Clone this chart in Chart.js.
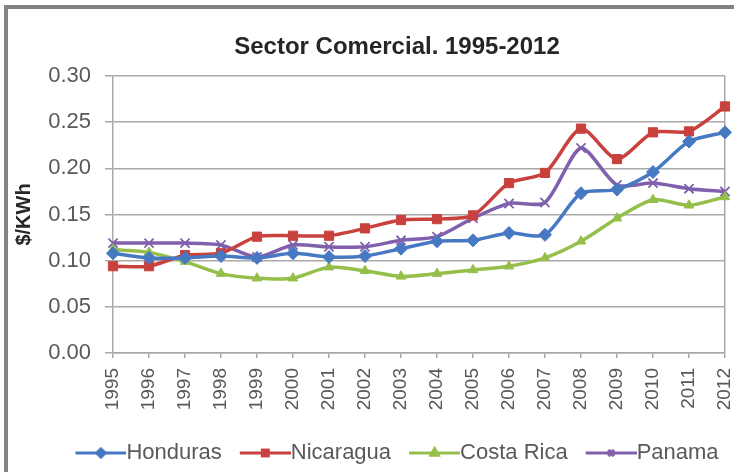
<!DOCTYPE html>
<html>
<head>
<meta charset="utf-8">
<title>Sector Comercial. 1995-2012</title>
<script src="https://cdn.jsdelivr.net/npm/chart.js@4.4.0/dist/chart.umd.min.js"></script>
<style>
    html, body { margin: 0; padding: 0; background: #fff; overflow: hidden; }
    #frame {
        position: absolute;
        left: 4px;
        top: 5px;
        border-left: 4px solid #838383;
        border-top: 4px solid #838383;
    }
    #chart { display: block; }
</style>
</head>
<body>
<div id="frame">
    <canvas id="chart" width="774" height="480"></canvas>
</div>
<script>
// years on the x axis
const years = ['1995', '1996', '1997', '1998', '1999', '2000', '2001', '2002', '2003',
    '2004', '2005', '2006', '2007', '2008', '2009', '2010', '2011', '2012'];

// $/KWh values
const honduras = [0.108, 0.103, 0.103, 0.105, 0.103, 0.108, 0.104, 0.105, 0.113,
    0.121, 0.122, 0.130, 0.128, 0.173, 0.177, 0.196, 0.229, 0.239];
const nicaragua = [0.094, 0.094, 0.106, 0.108, 0.126, 0.127, 0.127, 0.135, 0.144,
    0.145, 0.149, 0.184, 0.195, 0.243, 0.210, 0.239, 0.240, 0.267];
const costaRica = [0.112, 0.109, 0.099, 0.086, 0.081, 0.081, 0.093, 0.089, 0.083,
    0.086, 0.090, 0.094, 0.103, 0.121, 0.146, 0.166, 0.160, 0.169];
const panama = [0.119, 0.119, 0.119, 0.117, 0.104, 0.117, 0.115, 0.115, 0.122,
    0.126, 0.146, 0.162, 0.163, 0.222, 0.182, 0.184, 0.178, 0.175];

const seriesNames = ['Honduras', 'Nicaragua', 'Costa Rica', 'Panama'];
const seriesColors = ['#4679c2', '#c9413d', '#95bf4a', '#8060ac'];
const seriesMarkers = ['rectRot', 'rect', 'triangle', 'crossRot'];

const gridColor = '#a9a9a9';
const labelColor = '#595959';

// legend swatch: a short line with the marker in the middle (Excel style)
function legendSwatch(color, marker) {
    const c = document.createElement('canvas');
    c.width = 62;
    c.height = 16;
    const g = c.getContext('2d');
    g.strokeStyle = color;
    g.fillStyle = color;
    g.lineWidth = 3;
    g.beginPath();
    g.moveTo(11, 8);
    g.lineTo(62, 8);
    g.stroke();
    Chart.helpers.drawPoint(g, {pointStyle: marker, radius: 4, rotation: 0, borderWidth: 1.5}, 36.5, 8);
    if (marker !== 'crossRot') g.fill();
    g.stroke();
    return c;
}

function makeSet(i, values) {
    return {
        label: seriesNames[i],
        data: values,
        borderColor: seriesColors[i],
        backgroundColor: seriesColors[i],
        borderWidth: 3.5,
        tension: 0.25,
        pointStyle: seriesMarkers[i],
        pointRadius: seriesMarkers[i] === 'triangle' ? 5.5 : 6.5,
        pointBorderWidth: seriesMarkers[i] === 'crossRot' ? 1.8 : 1,
        pointBackgroundColor: seriesColors[i],
        pointBorderColor: seriesColors[i]
    };
}

const ctx = document.getElementById('chart').getContext('2d');
new Chart(ctx, {
    type: 'line',
    data: {
        labels: years,
        datasets: [
            makeSet(0, honduras),
            makeSet(1, nicaragua),
            makeSet(2, costaRica),
            makeSet(3, panama)
        ]
    },
    options: {
        responsive: false,
        animation: false,
        layout: {
            padding: {left: 4, right: 0, top: 10, bottom: 15}
        },
        plugins: {
            title: {
                display: true,
                text: 'Sector Comercial. 1995-2012',
                color: '#262626',
                font: {family: 'Liberation Sans', size: 24, weight: 'bold'},
                padding: {top: 13.6, bottom: 14.6}
            },
            legend: {
                position: 'bottom',
                labels: {
                    usePointStyle: true,
                    pointStyleWidth: 40,
                    padding: 18,
                    color: labelColor,
                    font: {family: 'Liberation Sans', size: 22},
                    generateLabels: function (chart) {
                        return chart.data.datasets.map(function (ds, i) {
                            return {
                                text: ds.label,
                                pointStyle: legendSwatch(seriesColors[i], seriesMarkers[i]),
                                fillStyle: seriesColors[i],
                                strokeStyle: seriesColors[i],
                                fontColor: labelColor,
                                lineWidth: 0,
                                hidden: false,
                                datasetIndex: i
                            };
                        });
                    }
                }
            },
            tooltip: {enabled: false}
        },
        scales: {
            x: {
                offset: false,
                afterFit: function (scale) { scale.height = 71; },
                grid: {
                    drawOnChartArea: true,
                    color: function (c) { return c.index === years.length - 1 ? gridColor : 'rgba(0,0,0,0)'; },
                    tickColor: gridColor,
                    tickLength: 5,
                    lineWidth: 1.5
                },
                border: {color: gridColor, width: 1.5},
                ticks: {
                    autoSkip: false,
                    minRotation: 90,
                    maxRotation: 90,
                    padding: 10,
                    color: labelColor,
                    font: {family: 'Liberation Sans', size: 19}
                }
            },
            y: {
                min: 0,
                max: 0.3,
                afterFit: function (scale) { scale.width = 101; },
                grid: {
                    color: gridColor,
                    lineWidth: 1.5,
                    tickLength: 8
                },
                border: {color: gridColor, width: 1.5},
                ticks: {
                    stepSize: 0.05,
                    padding: 14,
                    color: labelColor,
                    font: {family: 'Liberation Sans', size: 22},
                    callback: function (v) { return v.toFixed(2); }
                },
                title: {
                    display: true,
                    text: '$/KWh',
                    color: '#262626',
                    padding: {top: 0, bottom: 0},
                    font: {family: 'Liberation Sans', size: 20, weight: 'bold'}
                }
            },
            // empty space right of the plot (the original chart is cut off there)
            yRight: {
                position: 'right',
                display: true,
                afterFit: function (scale) { scale.width = 57; },
                grid: {display: false},
                border: {display: false},
                ticks: {display: false}
            }
        }
    }
});
</script>
</body>
</html>
